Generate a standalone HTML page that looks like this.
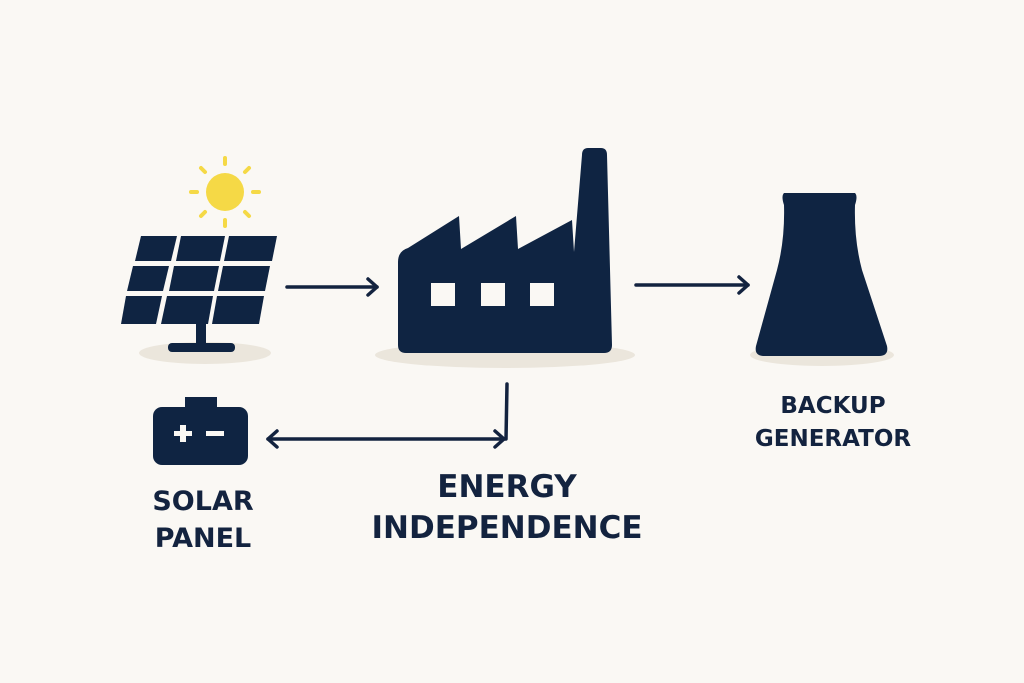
<!DOCTYPE html>
<html><head><style>
body{margin:0;width:1024px;height:683px;background:#faf8f4;overflow:hidden}
svg{position:absolute;left:0;top:0}
text{font-family:"DejaVu Sans","Liberation Sans",sans-serif;font-weight:bold;fill:#13233f;text-anchor:middle}
</style></head><body>
<svg width="1024" height="683" viewBox="0 0 1024 683">
<g fill="#ebe6dc">
<ellipse cx="205" cy="353" rx="66" ry="11"/>
<ellipse cx="505" cy="355" rx="130" ry="13"/>
<ellipse cx="822" cy="355" rx="72" ry="11"/>
</g>
<g fill="#f5d946" stroke="#f5d946" stroke-width="4" stroke-linecap="round">
<circle cx="225" cy="192" r="19" stroke="none"/>
<line x1="225" y1="158" x2="225" y2="164"/><line x1="225" y1="220" x2="225" y2="226"/>
<line x1="191" y1="192" x2="197" y2="192"/><line x1="253" y1="192" x2="259" y2="192"/>
<line x1="201" y1="168" x2="205" y2="172"/><line x1="245" y1="212" x2="249" y2="216"/>
<line x1="249" y1="168" x2="245" y2="172"/><line x1="201" y1="216" x2="205" y2="212"/>
</g>
<g fill="#0f2442">
<polygon points="141,236 177,236 171,261 135,261"/>
<polygon points="181,236 225,236 220,261 176,261"/>
<polygon points="229,236 277,236 272,261 224,261"/>
<polygon points="133,266 169,266 163,291 127,291"/>
<polygon points="174,266 219,266 214,291 169,291"/>
<polygon points="223,266 270,266 265,291 218,291"/>
<polygon points="126,296 162,296 156,324 121,324"/>
<polygon points="167,296 213,296 208,324 161,324"/>
<polygon points="217,296 264,296 259,324 212,324"/>
<rect x="196" y="324" width="10" height="22"/>
<rect x="168" y="343" width="67" height="9" rx="4"/>
<path d="M398,262 Q398,251 408,248 L459,216 L461,249 L516,216 L518,249 L572,220 L574,252 L582,155 Q582,148 588,148 L601,148 Q607,148 607,155 L612,345 Q612,353 604,353 L406,353 Q398,353 398,345 Z"/>
<path d="M784,193 L855,193 Q858,196 855,205 Q854,240 862,270 L887,346 Q889,356 879,356 L764,356 Q754,356 756,346 L777,270 Q785,240 784,205 Q781,196 784,193 Z"/>
<rect x="185" y="397" width="32" height="13"/>
<rect x="153" y="407" width="95" height="58" rx="9"/>
</g>
<g fill="#faf8f4">
<rect x="431" y="283" width="24" height="23"/>
<rect x="481" y="283" width="24" height="23"/>
<rect x="530" y="283" width="24" height="23"/>
<rect x="174" y="431" width="18" height="5"/><rect x="180" y="425" width="6" height="17"/>
<rect x="206" y="431" width="18" height="5"/>
</g>
<g stroke="#13233f" stroke-width="3.5" fill="none" stroke-linecap="round" stroke-linejoin="round">
<line x1="287" y1="287" x2="377" y2="287"/><polyline points="368,279 377,287 368,295"/>
<line x1="636" y1="285" x2="748" y2="285"/><polyline points="739,277 748,285 739,293"/>
<polyline points="507,384 506,439 268,439"/>
<polyline points="277,431 268,439 277,447"/><polyline points="495,431 504,439 495,447"/>
</g>
<text x="203" y="510" font-size="27">SOLAR</text>
<text x="203" y="547" font-size="27">PANEL</text>
<text x="507" y="497" font-size="31">ENERGY</text>
<text x="507" y="538" font-size="31">INDEPENDENCE</text>
<text x="833" y="413" font-size="23">BACKUP</text>
<text x="833" y="446" font-size="23">GENERATOR</text>
</svg>
</body></html>
